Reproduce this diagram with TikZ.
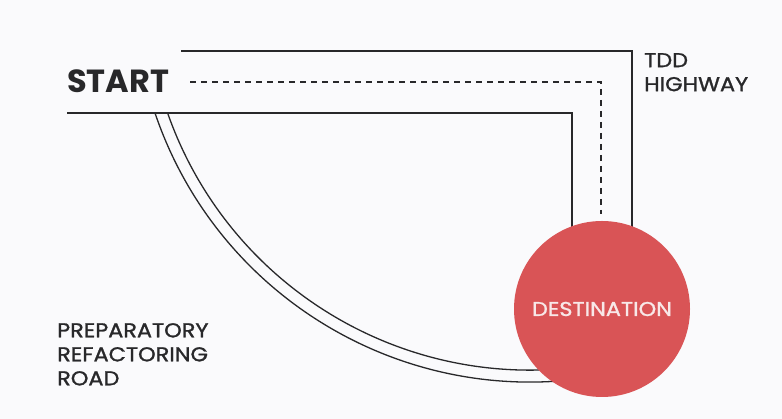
\documentclass[tikz,border=0pt]{standalone}
\usepackage{fontspec}
\setmainfont{Poppins}
\newfontfamily\roadfont{Poppins}[FakeBold=1.3, FakeStretch=1.12]
\usepackage{xcolor}
\usepackage{tikz}
\definecolor{roadgray}{RGB}{40,40,42}
\definecolor{destred}{RGB}{217,84,86}
\definecolor{paper}{RGB}{250,250,252}
\definecolor{desttext}{RGB}{248,232,232}

\begin{document}
\begin{tikzpicture}[
    x=1pt, y=1pt,
    road/.style={draw=roadgray, line width=1.3pt},
    lane/.style={draw=roadgray, line width=1.3pt, dash pattern=on 6pt off 5pt},
    roadlabel/.style={font=\roadfont\fontsize{20}{24}\selectfont, text=roadgray, align=left, inner sep=0pt},
    goal/.style={circle, fill=destred, minimum size=176pt, inner sep=0pt, text=desttext, font=\roadfont\fontsize{20}{22}\selectfont}
]
\fill[paper] (0,0) rectangle (782,419);
\useasboundingbox (0,0) rectangle (782,419);

% TDD highway: two edges and the dashed centre lane
\draw[road] (181,368) -- (632,368) -- (632,150);
\draw[lane] (190,337) -- (601,337) -- (601,205);
\draw[road] (67,306) -- (572,306) -- (572,150);

% preparatory refactoring road
\draw[road] (155,306) arc[start angle=198.7, end angle=280, radius=396];
\draw[road] (167.6,306) arc[start angle=199.3, end angle=280, radius=384];

\node[goal] (dest) at (602,110) {DESTINATION};

\node[anchor=base west, inner sep=0pt, text=roadgray, font=\fontsize{32}{38}\selectfont\bfseries] (start) at (67,326) {START};
\node[roadlabel, anchor=north west] (tdd) at (644,366) {TDD\\HIGHWAY};
\node[roadlabel, anchor=north west] (prep) at (57,96) {PREPARATORY\\REFACTORING\\ROAD};
\end{tikzpicture}
\end{document}
